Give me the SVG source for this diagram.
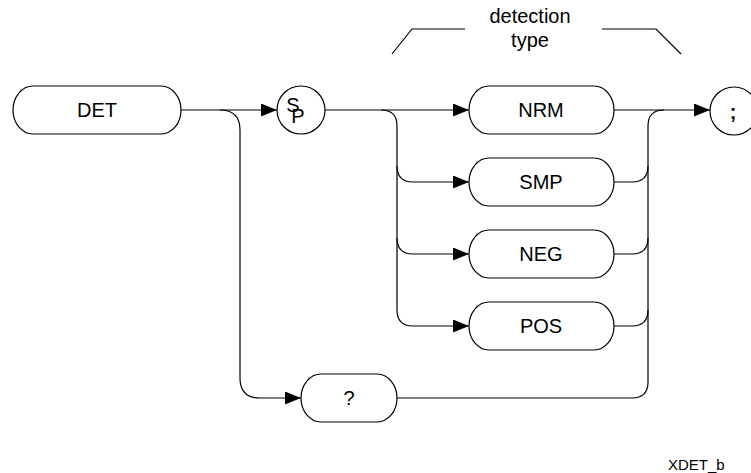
<svg xmlns="http://www.w3.org/2000/svg" width="751" height="473" viewBox="0 0 751 473">
<style>
.box{fill:#fff;stroke:#000;stroke-width:1.2}
.ln{fill:none;stroke:#000;stroke-width:1.2}
.t{font-family:"Liberation Sans",Arial,sans-serif;font-size:20px;fill:#000;text-anchor:middle}
.s{font-family:"Liberation Sans",Arial,sans-serif;font-size:15px;fill:#000}
</style>
<defs>
<marker id="ah" markerWidth="16" markerHeight="13" refX="16" refY="6.5" orient="auto" markerUnits="userSpaceOnUse">
<path d="M0,0 L16,6.5 L0,13 Z" fill="#000"/>
</marker>
</defs>
<rect width="751" height="473" fill="#fff"/>
<g id="connectors">
<path class="ln" d="M181,110 H277" marker-end="url(#ah)"/>
<path class="ln" d="M220,110 Q240,110 240,130 V378 Q240,398 260,398 H301" marker-end="url(#ah)"/>
<path class="ln" d="M325,110 H469" marker-end="url(#ah)"/>
<path class="ln" d="M381,110 Q397,110 397,126 V166 Q397,182 413,182 H469" marker-end="url(#ah)"/>
<path class="ln" d="M397,166 V238 Q397,254 413,254 H469" marker-end="url(#ah)"/>
<path class="ln" d="M397,238 V310 Q397,326 413,326 H469" marker-end="url(#ah)"/>
<path class="ln" d="M614,110 H710" marker-end="url(#ah)"/>
<path class="ln" d="M614,182 H632 Q648,182 648,166 V126 Q648,110 664,110"/>
<path class="ln" d="M614,254 H632 Q648,254 648,238 V166"/>
<path class="ln" d="M614,326 H632 Q648,326 648,310 V238"/>
<path class="ln" d="M397,398 H632 Q648,398 648,382 V310"/>
</g>
<g id="bracket">
<path class="ln" d="M392,54 L412,29 H465"/>
<path class="ln" d="M602,29 H656 L681,54"/>
<text class="t" x="530" y="23">detection</text>
<text class="t" x="530" y="47">type</text>
</g>
<g id="DET">
<rect class="box" x="13" y="86" width="168" height="48" rx="20" ry="24"/>
<text class="t" x="97" y="117">DET</text>
</g>
<g id="SP">
<circle class="box" cx="301" cy="110" r="24"/>
<text class="t"><tspan x="293" y="112">S</tspan><tspan x="298" y="123">P</tspan></text>
</g>
<g id="NRM">
<rect class="box" x="469" y="86" width="145" height="48" rx="20" ry="24"/>
<text class="t" x="541" y="117">NRM</text>
</g>
<g id="SMP">
<rect class="box" x="469" y="158" width="145" height="48" rx="20" ry="24"/>
<text class="t" x="541" y="189">SMP</text>
</g>
<g id="NEG">
<rect class="box" x="469" y="230" width="145" height="48" rx="20" ry="24"/>
<text class="t" x="541" y="261">NEG</text>
</g>
<g id="POS">
<rect class="box" x="469" y="302" width="145" height="48" rx="20" ry="24"/>
<text class="t" x="541" y="333">POS</text>
</g>
<g id="Q">
<rect class="box" x="301" y="374" width="96" height="48" rx="20" ry="24"/>
<text class="t" x="349" y="405">?</text>
</g>
<g id="SEMI">
<circle class="box" cx="734" cy="111" r="24"/>
<text class="t" x="733" y="119" font-weight="bold" font-size="26">;</text>
</g>
<text class="s" x="668" y="470">XDET_b</text>
</svg>
